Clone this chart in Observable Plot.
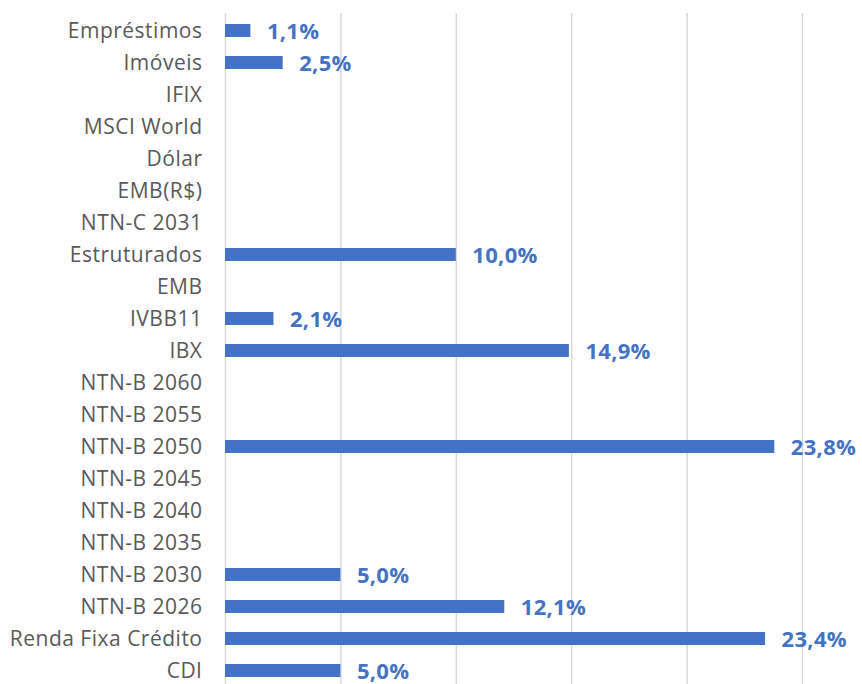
<!DOCTYPE html>
<html><head><meta charset="utf-8">
<script src="https://cdn.jsdelivr.net/npm/d3@7"></script>
<script src="https://cdn.jsdelivr.net/npm/@observablehq/plot@0.6"></script>
<style>body{margin:0;background:#fff}
.cats text{letter-spacing:0.5px}
.vals text{letter-spacing:0.3px}</style>
</head><body><div id="chart"></div>
<script>
const categories = ["Empréstimos","Imóveis","IFIX","MSCI World","Dólar","EMB(R$)","NTN-C 2031","Estruturados","EMB","IVBB11","IBX","NTN-B 2060","NTN-B 2055","NTN-B 2050","NTN-B 2045","NTN-B 2040","NTN-B 2035","NTN-B 2030","NTN-B 2026","Renda Fixa Crédito","CDI"];
const values = [1.1,2.5,0,0,0,0,0,10.0,0,2.1,14.9,0,0,23.8,0,0,0,5.0,12.1,23.4,5.0];
const gridTicks = [0,5,10,15,20,25];

const data = categories.map((c,i)=>({cat:c, v:values[i]}));
const fmt = v => v.toFixed(1).replace(".", ",") + "%";

const chart = Plot.plot({
  width: 862, height: 684,
  marginLeft: 225, marginRight: 60, marginTop: 13, marginBottom: 0,
  style: {fontFamily: "'Open Sans', sans-serif", background: "#fff"},
  x: {domain: [0, 25], axis: null},
  y: {domain: categories, range: [14, 686], paddingInner: 0.6, paddingOuter: 0.3, align: 0.5, label: null},
  marks: [
    Plot.ruleX(gridTicks, {stroke: "#d9d9d9", strokeWidth: 1.5}),
    Plot.barX(data, {x: "v", y: "cat", fill: "#4472C4"}),
    Plot.text(data.filter(d=>d.v>0), {x: "v", y: "cat", text: d=>fmt(d.v), textAnchor: "start", dx: 16, dy: 1, fill: "#4472C4", fontWeight: "bold", fontSize: 22, className: "vals"}),
    Plot.axisY({tickSize: 0, tickPadding: 23, fontSize: 21, color: "#595959", label: null, className: "cats"})
  ]
});
document.getElementById("chart").appendChild(chart);
</script></body></html>
